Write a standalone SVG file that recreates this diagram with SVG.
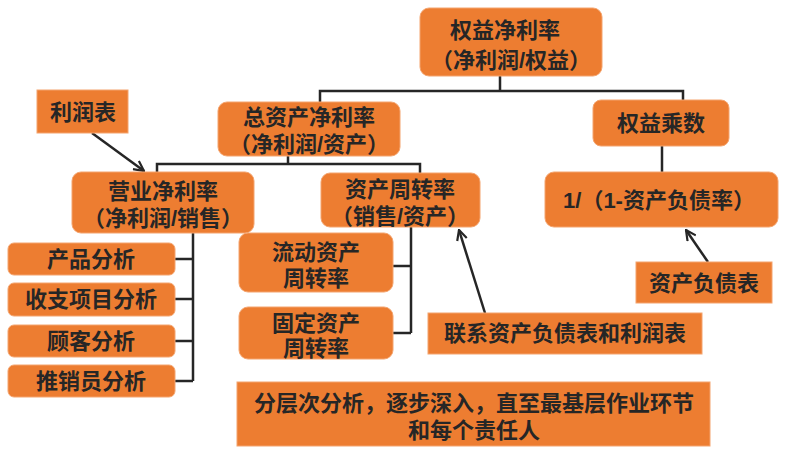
<svg xmlns="http://www.w3.org/2000/svg" width="788" height="452" viewBox="0 0 788 452">
<defs>
<style>
.box{fill:#ED7D31;stroke:#F4A46E;stroke-width:1}
.t{font-family:"Liberation Sans","Noto Sans CJK SC","Noto Sans CJK JP",sans-serif;font-size:22px;font-weight:bold;fill:#262626;text-anchor:middle;dominant-baseline:central}
.ln{fill:none;stroke:#262626;stroke-width:2.5}
.ar{fill:none;stroke:#262626;stroke-width:2.5;marker-end:url(#ah)}
</style>
<marker id="ah" viewBox="0 0 12 12" refX="11" refY="6" markerWidth="12" markerHeight="12" markerUnits="userSpaceOnUse" orient="auto">
<path d="M1,1 L11,6 L1,11" fill="none" stroke="#262626" stroke-width="2.2"/>
</marker>
</defs>
<rect width="788" height="452" fill="#fff"/>
<g id="connectors">
<path class="ln" d="M500,76 V91 M320,102 V91 H683 V100"/>
<path class="ln" d="M288,156 V164 M157,172 V164 H420 V173"/>
<path class="ln" d="M662,146 V172"/>
<path class="ln" d="M193,233 V381 M175,259 H193 M175,299 H193 M175,341 H193 M175,381 H193"/>
<path class="ln" d="M411,227 V333 M393,266 H411 M393,333 H411"/>
<path class="ar" d="M92,133 L144,171"/>
<path class="ar" d="M485,313 L459,230"/>
<path class="ar" d="M708,262 L686,230"/>
</g>
<g id="n_roe"><rect class="box" x="420" y="8" width="182" height="68" rx="9"/><text class="t" x="505" y="30">权益净利率</text><text class="t" x="511" y="60">（净利润/权益）</text></g>
<g id="n_em"><rect class="box" x="593" y="100" width="136" height="46" rx="8"/><text class="t" x="661" y="123">权益乘数</text></g>
<g id="n_debt"><rect class="box" x="545" y="172" width="233" height="55" rx="9"/><text class="t" x="659" y="200">1/（1-资产负债率）</text></g>
<g id="n_bs"><rect class="box" x="636" y="262" width="136" height="41"/><text class="t" x="704" y="283">资产负债表</text></g>
<g id="n_roa"><rect class="box" x="218" y="102" width="182" height="54" rx="9"/><text class="t" x="309" y="117">总资产净利率</text><text class="t" x="309" y="144">（净利润/资产）</text></g>
<g id="n_is"><rect class="box" x="37" y="90" width="91" height="43"/><text class="t" x="83" y="112">利润表</text></g>
<g id="n_opm"><rect class="box" x="72" y="172" width="182" height="61" rx="9"/><text class="t" x="163" y="191">营业净利率</text><text class="t" x="163" y="218">（净利润/销售）</text></g>
<g id="n_at"><rect class="box" x="321" y="173" width="159" height="54" rx="9"/><text class="t" x="400" y="189">资产周转率</text><text class="t" x="400" y="216">（销售/资产）</text></g>
<g id="n_ca"><rect class="box" x="239" y="233" width="154" height="59" rx="9"/><text class="t" x="316" y="252">流动资产</text><text class="t" x="316" y="278">周转率</text></g>
<g id="n_fa"><rect class="box" x="239" y="307" width="154" height="52" rx="9"/><text class="t" x="316" y="323">固定资产</text><text class="t" x="316" y="348">周转率</text></g>
<g id="n_p1"><rect class="box" x="8" y="243" width="167" height="32" rx="6"/><text class="t" x="91" y="259">产品分析</text></g>
<g id="n_p2"><rect class="box" x="8" y="283" width="167" height="33" rx="6"/><text class="t" x="91" y="299">收支项目分析</text></g>
<g id="n_p3"><rect class="box" x="8" y="325" width="167" height="32" rx="6"/><text class="t" x="91" y="341">顾客分析</text></g>
<g id="n_p4"><rect class="box" x="8" y="365" width="167" height="32" rx="6"/><text class="t" x="91" y="381">推销员分析</text></g>
<g id="n_link"><rect class="box" x="428" y="313" width="274" height="41"/><text class="t" x="565" y="333">联系资产负债表和利润表</text></g>
<g id="n_note"><rect class="box" x="237" y="382" width="473" height="64"/><text class="t" x="474" y="403">分层次分析，逐步深入，直至最基层作业环节</text><text class="t" x="474" y="430">和每个责任人</text></g>
</svg>
